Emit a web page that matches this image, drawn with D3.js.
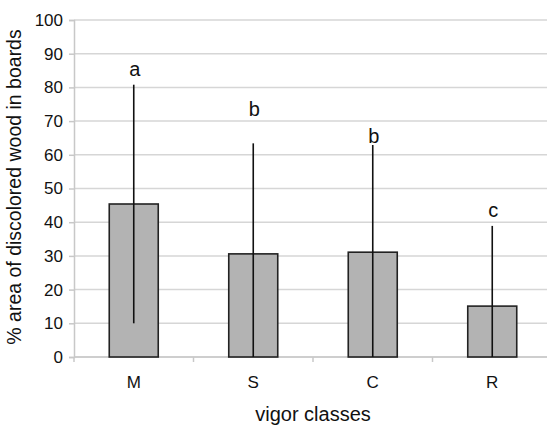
<!DOCTYPE html>
<meta charset="utf-8">
<script src="https://d3js.org/d3.v7.min.js"></script>
<style>
  body { margin: 0; background: #fff; }
  text { font-family: "Liberation Sans", Arial, sans-serif; fill: #111; }
</style>
<svg id="chart"></svg>
<script>
// data
var classes = ["M", "S", "C", "R"];
var means = [45.4, 30.6, 31.1, 15.1];
var sds = [35.4, 32.8, 31.8, 23.8];
var letters = ["a", "b", "b", "c"];
var letterAt = [83.5, 71.5, 63.6, 41.5];
var yTicks = [0, 10, 20, 30, 40, 50, 60, 70, 80, 90, 100];

var width = 547, height = 425;
var svg = d3.select("#chart").attr("width", width).attr("height", height);

var x = d3.scaleBand().domain(classes).range([74, 552]).paddingInner(0.59).paddingOuter(0.295);
var y = d3.scaleLinear().domain([0, 100]).range([357, 20]);

// gridlines
svg.append("g")
  .selectAll("line")
  .data(yTicks)
  .enter().append("line")
  .attr("x1", 74).attr("x2", width)
  .attr("y1", d => y(d)).attr("y2", d => y(d))
  .attr("stroke", "#d6d6d6").attr("stroke-width", 1.5);

// y axis
var yAxis = svg.append("g")
  .attr("transform", "translate(74,0)")
  .call(d3.axisLeft(y).tickValues(yTicks).tickSize(5).tickPadding(6));
yAxis.select(".domain").attr("stroke", "#c8c8c8").attr("stroke-width", 1.5);
yAxis.selectAll(".tick line").attr("stroke", "#c8c8c8").attr("stroke-width", 1.5);
yAxis.selectAll(".tick text").style("font-size", "17px").attr("fill", "#111");

// x axis: ticks between categories
var bounds = classes.map(c => x(c) - x.step() * x.paddingInner() / 2);
bounds.push(bounds[3] + x.step());
svg.append("g")
  .selectAll("line")
  .data(bounds)
  .enter().append("line")
  .attr("x1", d => d).attr("x2", d => d)
  .attr("y1", y(0)).attr("y2", y(0) + 5)
  .attr("stroke", "#c8c8c8").attr("stroke-width", 1.5);
svg.append("line")
  .attr("x1", 74).attr("x2", width)
  .attr("y1", y(0)).attr("y2", y(0))
  .attr("stroke", "#c8c8c8").attr("stroke-width", 1.5);

svg.append("g")
  .selectAll("text")
  .data(classes)
  .enter().append("text")
  .attr("x", d => x(d) + x.bandwidth() / 2)
  .attr("y", 388)
  .attr("text-anchor", "middle")
  .style("font-size", "17px")
  .text(d => d);

// bars
svg.append("g")
  .selectAll("rect")
  .data(classes)
  .enter().append("rect")
  .attr("x", d => x(d))
  .attr("y", (d, i) => y(means[i]))
  .attr("width", x.bandwidth())
  .attr("height", (d, i) => y(0) - y(means[i]))
  .attr("fill", "#b3b3b3")
  .attr("stroke", "#222")
  .attr("stroke-width", 1.6);

// error bars (clipped at zero)
svg.append("g")
  .selectAll("line")
  .data(classes)
  .enter().append("line")
  .attr("x1", d => x(d) + x.bandwidth() / 2)
  .attr("x2", d => x(d) + x.bandwidth() / 2)
  .attr("y1", (d, i) => y(Math.max(0, means[i] - sds[i])))
  .attr("y2", (d, i) => y(means[i] + sds[i]))
  .attr("stroke", "#111")
  .attr("stroke-width", 1.6);

// significance letters
svg.append("g")
  .selectAll("text")
  .data(classes)
  .enter().append("text")
  .attr("x", d => x(d) + x.bandwidth() / 2 + 1)
  .attr("y", (d, i) => y(letterAt[i]))
  .attr("text-anchor", "middle")
  .style("font-size", "20px")
  .text((d, i) => letters[i]);

// axis titles
svg.append("text")
  .attr("transform", "translate(21,187) rotate(-90)")
  .attr("text-anchor", "middle")
  .style("font-size", "19.5px")
  .text("% area of discolored wood in boards");

svg.append("text")
  .attr("x", 313)
  .attr("y", 421)
  .attr("text-anchor", "middle")
  .style("font-size", "20px")
  .text("vigor classes");
</script>
